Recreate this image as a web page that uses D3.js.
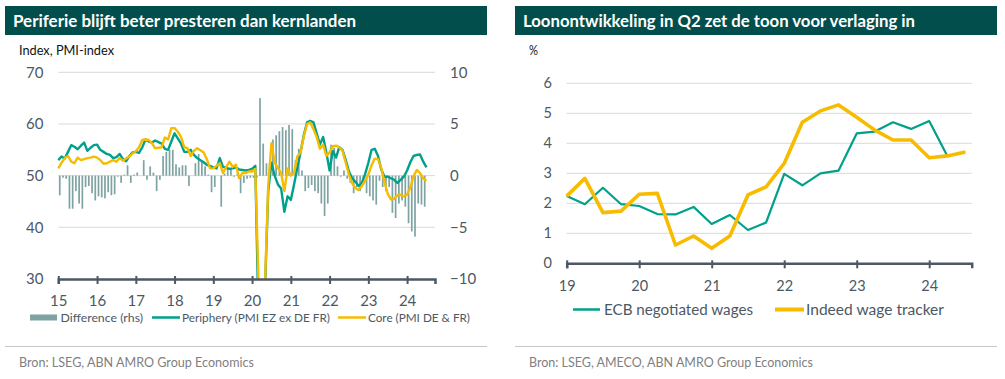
<!DOCTYPE html>
<html><head><meta charset="utf-8">
<script src="https://cdn.jsdelivr.net/npm/d3@7"></script>
<style>
body{margin:0;background:#fff;}
svg text{font-family:Lato,'Open Sans',sans-serif;}
</style></head><body>
<svg id="c" width="1005" height="379"></svg>
<script>
// ---------- Left chart: monthly PMI, Jan 2015 .. Jul 2024 ----------
const pmiStartYear = 15;
const periphery = [
53.0,53.7,53.3,54.6,55.9,55.6,55.1,55.8,56.4,54.8,55.4,55.9,
56.0,55.0,54.6,54.2,54.0,53.4,53.6,54.2,53.2,52.8,53.8,54.5,
54.6,54.4,55.5,57.0,56.6,56.4,56.8,56.5,56.2,55.2,55.0,56.6,
58.2,57.2,56.2,54.6,54.6,55.0,54.0,53.4,53.0,52.6,52.1,51.9,
51.6,51.4,53.4,51.7,51.5,51.3,51.4,51.6,51.2,51.1,51.0,51.1,
51.3,51.9,22.0,12.0,28.0,47.0,52.5,50.0,48.3,47.5,43.0,46.0,
45.3,48.3,51.5,54.5,57.8,60.3,60.6,60.3,58.2,56.0,57.5,54.5,
51.0,54.8,53.5,55.5,55.0,53.0,50.8,49.5,48.8,48.0,48.6,50.3,
52.5,55.0,55.2,53.8,51.2,49.8,49.8,49.5,49.2,48.6,49.2,49.8,
51.0,52.6,53.8,54.0,54.1,52.7,51.6];
const core = [
51.4,52.5,53.4,53.8,52.7,52.4,53.5,53.0,53.2,53.4,53.5,53.7,
53.5,53.0,52.3,52.4,52.7,53.0,52.7,53.4,52.9,53.3,53.7,54.3,
54.7,55.5,56.9,57.0,56.9,56.3,55.3,55.4,55.5,57.4,57.0,59.2,
59.2,58.5,57.5,55.5,55.3,53.8,54.8,55.3,54.9,54.5,53.2,51.4,
51.4,51.9,52.4,50.5,51.7,52.7,51.7,52.1,49.5,50.5,50.5,50.8,
50.8,51.3,29.0,15.0,29.0,48.0,56.3,52.5,51.5,50.5,47.0,51.4,
50.0,50.5,53.7,54.5,57.5,60.0,60.3,59.0,57.5,55.2,56.0,53.8,
54.5,55.7,55.8,55.5,54.8,52.5,50.2,48.5,47.6,47.2,48.0,49.0,
50.2,52.0,53.3,53.2,51.5,48.7,46.5,45.4,45.5,46.2,46.3,46.0,
46.3,47.7,49.9,51.1,50.5,49.5,49.0];
const difference = [
-1.9,-0.2,-0.3,-3.2,-3.2,-1.5,-2.7,-3.2,-1.1,-1.0,-1.7,-2.4,
-2.0,-2.1,-2.2,-1.6,-1.9,-1.8,-0.1,-0.7,0.1,1.0,-0.7,0.1,
0.3,0.0,1.5,-0.4,0.9,0.3,-1.5,-0.4,1.9,2.3,2.5,2.5,
1.1,0.8,1.0,1.0,-1.0,0.0,1.2,2.1,1.4,0.9,0.1,-1.6,
-1.1,0.0,-3.0,0.2,0.7,0.7,-0.1,0.2,-1.7,-0.7,-0.3,-0.2,
-0.2,-0.2,7.5,3.1,1.2,1.2,3.5,3.9,4.3,4.7,4.4,4.9,
4.5,1.5,2.6,0.5,-1.5,-1.2,-0.9,-1.5,-1.7,-2.7,-3.9,-2.7,
3.0,2.7,0.9,-0.1,0.5,-0.3,-0.7,-1.7,-1.1,-1.5,-0.9,-1.7,
-2.0,-2.4,-2.8,-0.5,-1.1,-1.5,-1.1,-3.6,-4.1,-2.7,-2.4,-3.0,
-4.6,-5.4,-5.9,-2.7,-2.8,-3.0,0];
const leftYTicks = [30,40,50,60,70];
const leftY2Ticks = [-10,-5,0,5,10];
const leftXTicks = [15,16,17,18,19,20,21,22,23,24];

// ---------- Right chart: quarterly wages, 2019Q1 .. ----------
const wageStartYear = 19;
const ecbWages = [2.24,1.97,2.52,1.97,1.91,1.64,1.63,1.88,1.31,1.61,1.11,1.36,
                  2.98,2.60,3.00,3.09,4.33,4.39,4.70,4.48,4.74,3.58];
const indeedWages = [2.24,2.83,1.69,1.74,2.30,2.33,0.61,0.91,0.50,0.91,2.28,2.55,
                     3.33,4.70,5.08,5.28,4.87,4.44,4.11,4.11,3.52,3.58,3.71];
const rightYTicks = [0,1,2,3,4,5,6];
const rightXTicks = [19,20,21,22,23,24];

const TEAL = "#00a08b", YELLOW = "#f7bb00", BARC = "#7fa3a2", DARK = "#024e4c";
const AXIS = "#4c5863", TICKTXT = "#4c5863", GRID = "#d9d9d9";
const FONT = "Lato,'Open Sans',sans-serif";

const svg = d3.select("#c");

function txt(x, y, s, size, fill, len, weight){
  const t = svg.append("text").attr("x", x).attr("y", y).attr("fill", fill)
     .attr("font-size", size).attr("font-family", FONT).text(s);
  if (weight) t.attr("font-weight", weight);
  if (len) t.attr("textLength", len).attr("lengthAdjust", "spacingAndGlyphs");
  return t;
}

function header(x0, x1, title, titleLen, unit, unitLen, source, srcLen, srcX){
  svg.append("rect").attr("x", x0).attr("y", 6).attr("width", x1 - x0).attr("height", 29).attr("fill", DARK);
  txt(x0 + 8, 26.5, title, 17, "#fff", titleLen, 700);
  txt(srcX, 55, unit, 13, "#111", unitLen);
  svg.append("line").attr("x1", x0).attr("x2", x1).attr("y1", 346.5).attr("y2", 346.5)
     .attr("stroke", "#c6c6c6").attr("stroke-width", 1);
  txt(srcX, 366.5, source, 13, "#7f7f7f", srcLen);
}

function bottomAxis(g, x, ticks, yPos, fs, pad){
  const ax = d3.axisBottom(x).tickValues(ticks).tickSizeOuter(0).tickSize(5).tickPadding(pad)
               .tickFormat(d3.format("d"));
  const a = g.append("g").attr("transform", `translate(0,${yPos})`).call(ax);
  a.select(".domain").attr("stroke", AXIS).attr("stroke-width", 2.5);
  a.selectAll(".tick line").attr("stroke", AXIS).attr("stroke-width", 2).attr("y1", -3);
  a.selectAll(".tick text").attr("fill", TICKTXT).attr("font-size", fs).attr("font-family", FONT);
}

// ===== LEFT =====
header(5, 487, "Periferie blijft beter presteren dan kernlanden", 343, "Index, PMI-index", 95,
       "Bron: LSEG, ABN AMRO Group Economics", 235, 19);
{
  const g = svg.append("g");
  const x = d3.scaleLinear().domain([15, 24.72]).range([58.3, 435]);
  const y = d3.scaleLinear().domain([30, 70]).range([279, 72.3]);
  const y2 = d3.scaleLinear().domain([-10, 10]).range([279, 72.3]);
  const t = i => pmiStartYear + i / 12;

  g.append("g").selectAll("line").data(leftYTicks.filter(v => v > 30)).join("line")
    .attr("x1", x.range()[0]).attr("x2", x.range()[1])
    .attr("y1", d => y(d)).attr("y2", d => y(d)).attr("stroke", GRID).attr("stroke-width", 1);

  const ya = g.append("g").attr("transform", "translate(43.5,0)")
    .call(d3.axisLeft(y).tickValues(leftYTicks).tickSize(0).tickPadding(0).tickFormat(d3.format("d")));
  ya.select(".domain").remove();
  ya.selectAll("text").attr("fill", TICKTXT).attr("font-size", 15).attr("font-family", FONT);

  const ya2 = g.append("g").attr("transform", "translate(450,0)")
    .call(d3.axisRight(y2).tickValues(leftY2Ticks).tickSize(0).tickPadding(0).tickFormat(d3.format("d")));
  ya2.select(".domain").remove();
  ya2.selectAll("text").attr("fill", TICKTXT).attr("font-size", 15).attr("font-family", FONT);

  g.append("g").selectAll("rect").data(difference).join("rect")
    .attr("x", (d, i) => x(t(i)) + 0.6).attr("width", 1.7)
    .attr("y", d => Math.min(y2(d), y2(0))).attr("height", d => Math.abs(y2(d) - y2(0)))
    .attr("fill", BARC);

  svg.append("clipPath").attr("id", "clipL").append("rect")
    .attr("x", 40).attr("y", 60).attr("width", 420).attr("height", 279 - 60);
  const lineGen = d3.line().x((d, i) => x(t(i))).y(d => y(d));
  const lg = g.append("g").attr("clip-path", "url(#clipL)");
  lg.append("path").datum(periphery).attr("d", lineGen).attr("fill", "none")
    .attr("stroke", TEAL).attr("stroke-width", 2.4).attr("stroke-linejoin", "round");
  lg.append("path").datum(core).attr("d", lineGen).attr("fill", "none")
    .attr("stroke", YELLOW).attr("stroke-width", 2.4).attr("stroke-linejoin", "round");

  bottomAxis(g, x, leftXTicks, 279, 15, 11);

  // legend
  svg.append("rect").attr("x", 30).attr("y", 314.5).attr("width", 27).attr("height", 6).attr("fill", BARC);
  txt(60.5, 321.5, "Difference (rhs)", 12.3, TICKTXT, 82.5);
  svg.append("line").attr("x1", 152).attr("x2", 180).attr("y1", 317.5).attr("y2", 317.5).attr("stroke", TEAL).attr("stroke-width", 2.5);
  txt(182, 321.5, "Periphery (PMI EZ ex DE FR)", 12.3, TICKTXT, 148);
  svg.append("line").attr("x1", 338).attr("x2", 366).attr("y1", 317.5).attr("y2", 317.5).attr("stroke", YELLOW).attr("stroke-width", 2.5);
  txt(368, 321.5, "Core (PMI DE & FR)", 12.3, TICKTXT, 102);
}

// ===== RIGHT =====
header(515, 997, "Loonontwikkeling in Q2 zet de toon voor verlaging in", 392, "%", 9,
       "Bron: LSEG, AMECO, ABN AMRO Group Economics", 284, 529);
{
  const g = svg.append("g");
  const x = d3.scaleLinear().domain([19, 24.586]).range([566.7, 971.7]);
  const y = d3.scaleLinear().domain([0, 6]).range([263.3, 83.3]);
  const t = i => wageStartYear + i / 4;

  g.append("g").selectAll("line").data(rightYTicks.filter(v => v > 0)).join("line")
    .attr("x1", x.range()[0]).attr("x2", x.range()[1])
    .attr("y1", d => y(d)).attr("y2", d => y(d)).attr("stroke", GRID).attr("stroke-width", 1);

  const ya = g.append("g").attr("transform", "translate(552,0)")
    .call(d3.axisLeft(y).tickValues(rightYTicks).tickSize(0).tickPadding(0).tickFormat(d3.format("d")));
  ya.select(".domain").remove();
  ya.selectAll("text").attr("fill", TICKTXT).attr("font-size", 14.5).attr("font-family", FONT);

  const lineGen = d3.line().x((d, i) => x(t(i))).y(d => y(d));
  g.append("path").datum(ecbWages).attr("d", lineGen).attr("fill", "none")
    .attr("stroke", TEAL).attr("stroke-width", 2.2).attr("stroke-linejoin", "round");
  g.append("path").datum(indeedWages).attr("d", lineGen).attr("fill", "none")
    .attr("stroke", YELLOW).attr("stroke-width", 3.6).attr("stroke-linejoin", "round");

  bottomAxis(g, x, rightXTicks, 263.3, 14.5, 12);

  svg.append("line").attr("x1", 573).attr("x2", 600).attr("y1", 309.5).attr("y2", 309.5).attr("stroke", TEAL).attr("stroke-width", 2.5);
  txt(604, 314.5, "ECB negotiated wages", 14.5, TICKTXT, 149);
  svg.append("line").attr("x1", 775).attr("x2", 804).attr("y1", 309.5).attr("y2", 309.5).attr("stroke", YELLOW).attr("stroke-width", 4);
  txt(806, 314.5, "Indeed wage tracker", 14.5, TICKTXT, 138);
}
</script></body></html>
